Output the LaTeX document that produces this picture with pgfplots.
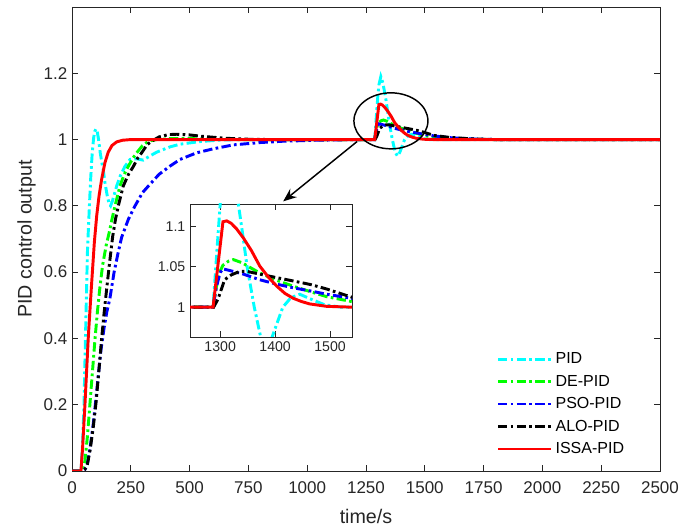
\documentclass[border=0pt]{standalone}
\usepackage{fontspec}
\setmainfont{Liberation Sans}
\usepackage{pgfplots}
\pgfplotsset{compat=1.18}
\usepackage{pgfplotstable}
\usetikzlibrary{arrows.meta}

\definecolor{mcyan}{rgb}{0,1,1}
\definecolor{mgreen}{rgb}{0,1,0}
\definecolor{mblue}{rgb}{0,0,1}
\definecolor{mred}{rgb}{1,0,0}
\definecolor{axgray}{rgb}{0.15,0.15,0.15}
\newcommand\mytf{\fontsize{12.75}{15}\selectfont}
\newcommand\mylbf{\fontsize{14.75}{17}\selectfont}
\newcommand\mylgf{\fontsize{12}{14}\selectfont}
\newcommand\myinf{\fontsize{10.6}{13}\selectfont}

\pgfplotstableread{
t y
0 0
38 0
45 0.08
51 0.2
56 0.36
62 0.55
66 0.67
74 0.8
80 0.89
86 0.96
92 1.005
97 1.025
102 1.032
107 1.025
113 1.0
120 0.96
127 0.93
133 0.909
140 0.87
150 0.83
158 0.806
164 0.8
172 0.815
182 0.84
190 0.86
205 0.89
225 0.919
247 0.94
275 0.942
303 0.938
330 0.95
360 0.962
417 0.978
459 0.986
544 0.994
620 0.998
700 1.0
1287 1.0
1295 1.08
1300 1.128
1305 1.165
1313 1.19
1322 1.17
1333 1.128
1341 1.09
1349 1.05
1362 1.0
1374 0.962
1384 0.95
1394 0.962
1414 1.0
1429 1.012
1445 1.016
1465 1.01
1490 1.003
1520 1.0
2500 1.0
}\pid

\pgfplotstableread{
t y
0 0
45 0
55 0.03
65 0.1
76 0.2
87 0.3
98 0.4
108 0.48
118 0.55
130 0.62
145 0.68
160 0.725
170 0.76
183 0.8
204 0.86
222 0.895
240 0.92
260 0.945
275 0.96
300 0.982
325 0.995
360 1.0
420 1.003
500 1.003
600 1.001
700 1.0
1287 1.0
1293 1.025
1298 1.042
1305 1.052
1315 1.057
1324 1.059
1340 1.055
1355 1.049
1372 1.0425
1400 1.034
1433 1.026
1465 1.019
1494 1.013
1539 1.007
1600 1.003
1700 1.001
1800 1.0
2500 1.0
}\de

\pgfplotstableread{
t y
0 0
45 0
55 0.005
65 0.02
77 0.07
90 0.14
100 0.205
112 0.29
124 0.37
136 0.43
148 0.48
161 0.52
179 0.6
195 0.655
211 0.705
240 0.76
268 0.8
300 0.84
325 0.86
370 0.895
417 0.92
459 0.94
530 0.96
600 0.972
686 0.984
800 0.991
898 0.995
1040 0.998
1200 1.0
1287 1.0
1293 1.025
1300 1.043
1305 1.0475
1320 1.045
1342 1.041
1372 1.034
1400 1.029
1433 1.024
1465 1.02
1494 1.016
1539 1.011
1600 1.006
1700 1.002
1800 1.0
2500 1.0
}\pso

\pgfplotstableread{
t y
0 0
45 0
55 0.005
64 0.015
77 0.063
90 0.13
102 0.205
114 0.3
126 0.4
137 0.48
147 0.547
160 0.63
173 0.708
185 0.76
197 0.8
218 0.86
240 0.895
261 0.919
280 0.945
296 0.96
320 0.985
339 0.995
370 1.008
410 1.015
445 1.016
500 1.014
550 1.01
650 1.004
750 1.001
850 1.0
1288 1.0
1296 1.01
1308 1.034
1320 1.04
1336 1.0445
1348 1.0445
1372 1.041
1400 1.037
1433 1.0325
1465 1.028
1494 1.0225
1539 1.0125
1600 1.007
1700 1.002
1800 1.0
2500 1.0
}\alo

\pgfplotstableread{
t y
0 0
38 0
45 0.07
55 0.2
69 0.4
82 0.55
95 0.69
105 0.77
115 0.83
126 0.88
140 0.93
154 0.962
170 0.982
190 0.993
215 0.998
250 1.0
1287 1.0
1305 1.106
1312 1.107
1320 1.104
1330 1.097
1342 1.086
1357 1.07
1372 1.051
1388 1.037
1403 1.026
1418 1.017
1433 1.011
1448 1.007
1463 1.004
1494 1.001
1540 1.0
2500 1.0
}\issa

\pgfplotsset{
  longleg/.style={legend image code/.code={\draw[##1] (0pt,0pt) -- (40pt,0pt);}},
  sPID/.style={mcyan, line width=2.2pt, dash pattern=on 7pt off 2.5pt on 2pt off 2.5pt, longleg},
  sDE/.style={mgreen, line width=2.2pt, dash pattern=on 7pt off 2.5pt on 2pt off 2.5pt, longleg},
  sPSO/.style={mblue, line width=2.2pt, dash pattern=on 7pt off 2.5pt on 2pt off 2.5pt, longleg},
  sALO/.style={black, line width=2.2pt, dash pattern=on 7pt off 2.5pt on 2pt off 2.5pt, longleg},
  sISSA/.style={mred, line width=2.2pt, longleg},
  common/.style={
    scale only axis,
    axis line style={axgray, line width=0.6pt},
    tick style={axgray, line width=0.6pt},
    tick align=inside,
    major tick length=4.5pt,
    tick label style={font=\mytf, text=axgray},
    label style={font=\mylbf, text=axgray},
    /pgf/number format/assume math mode=true,
    /pgf/number format/1000 sep={},
    scaled ticks=false,
  },
}

\begin{document}
\begin{tikzpicture}
\path[use as bounding box] (0,0) rectangle (519.75pt,396pt);
\begin{axis}[common,
  at={(54pt,42.75pt)}, anchor=south west,
  width=441pt, height=348pt,
  xmin=0, xmax=2500, ymin=0, ymax=1.4,
  xtick={0,250,500,750,1000,1250,1500,1750,2000,2250,2500},
  ytick={0,0.2,0.4,0.6,0.8,1,1.2},
  xticklabel style={yshift=-4.5pt},
  xlabel={time/s}, ylabel={PID control output},
  xlabel style={at={(axis description cs:0.5,-0.099)}, anchor=center},
  ylabel style={at={(axis description cs:-0.0775,0.5)}, anchor=center},
  legend cell align=left,
  legend style={at={(0.715,0.267)}, anchor=north west, draw=none, fill=none,
    font=\mylgf, text=black, row sep=3pt},
]
\addplot[sPID] table[x=t,y=y]{\pid};
\addlegendentry{PID}
\addplot[sDE] table[x=t,y=y]{\de};
\addlegendentry{DE-PID}
\addplot[sPSO] table[x=t,y=y]{\pso};
\addlegendentry{PSO-PID}
\addplot[sALO] table[x=t,y=y]{\alo};
\addlegendentry{ALO-PID}
\addplot[sISSA] table[x=t,y=y]{\issa};
\addlegendentry{ISSA-PID}
\draw[black, line width=1.1pt] (axis cs:1356,1.0565) ellipse [x radius=27.75pt, y radius=21pt];
\draw[black, line width=1.1pt, -{Stealth[length=10pt,width=8pt]}] (axis cs:1212,0.994) -- (axis cs:898,0.8136);
\end{axis}
\begin{axis}[common,
  at={(142.5pt,143.25pt)}, anchor=south west,
  width=121.5pt, height=99.75pt,
  xmin=1245, xmax=1540, ymin=0.963, ymax=1.128,
  xtick={1300,1400,1500}, ytick={1,1.05,1.1},
  yticklabels={1,1.05,1.1},
  tick label style={font=\myinf},
  axis background/.style={fill=white},
]
\addplot[sPID] table[x=t,y=y]{\pid};
\addplot[sDE] table[x=t,y=y]{\de};
\addplot[sPSO] table[x=t,y=y]{\pso};
\addplot[sALO] table[x=t,y=y]{\alo};
\addplot[sISSA] table[x=t,y=y]{\issa};
\end{axis}
\end{tikzpicture}
\end{document}
